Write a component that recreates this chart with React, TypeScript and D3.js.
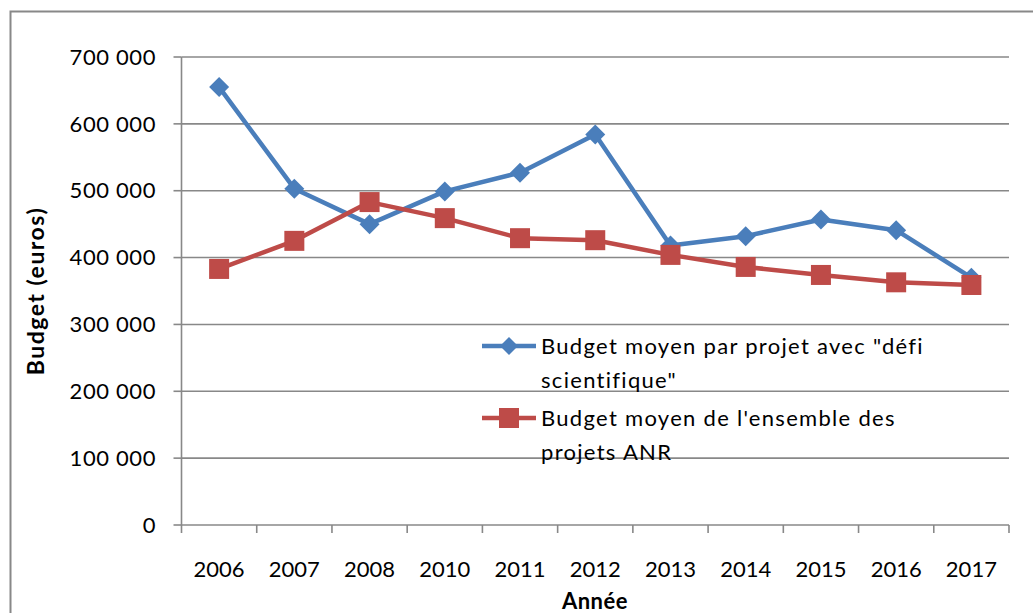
import React from "react";
import * as d3 from "d3";

const years = ["2006", "2007", "2008", "2010", "2011", "2012", "2013", "2014", "2015", "2016", "2017"];
const defiValues = [655000, 503000, 450000, 499000, 527000, 584000, 418000, 432000, 457000, 441000, 370000];
const anrValues = [383000, 425000, 483000, 459000, 429000, 426000, 404000, 386000, 374000, 363000, 359000];
const yTicks = [0, 100000, 200000, 300000, 400000, 500000, 600000, 700000];
const seriesNames = ['Budget moyen par projet avec "défi', 'scientifique"'];
const seriesNames2 = ["Budget moyen de l'ensemble des", "projets ANR"];

const W = 1033;
const H = 613;
const left = 181.5;
const right = 1009;
const top = 57;
const bottom = 525;
const FONT = "Lato, 'Open Sans', sans-serif";
const BLUE = "#4A7EBB";
const RED = "#BE4B48";
const GRID = "#888888";

const fmt = (v: number) => {
  const s = String(v);
  return s.replace(/\B(?=(\d{3})+(?!\d))/g, " ");
};

export default function App() {
  const x = d3.scaleBand<string>().domain(years).range([left, right]);
  const y = d3.scaleLinear().domain([0, 700000]).range([bottom, top]);
  const cx = (yr: string) => (x(yr) as number) + x.bandwidth() / 2;
  const line = d3
    .line<number>()
    .x((_, i) => cx(years[i]))
    .y((d) => y(d));
  const diamond = (px: number, py: number, r: number) =>
    `M${px},${py - r}L${px + r},${py}L${px},${py + r}L${px - r},${py}Z`;

  const tickEdges = years.map((yr) => x(yr) as number).concat([right]);
  const legendText = { fontSize: 22, letterSpacing: 1.3, fill: "#000" } as const;

  return (
    <svg width={W} height={H} style={{ position: "absolute", left: 0, top: 0 }} fontFamily={FONT}>
      <rect x={0} y={0} width={W} height={H} fill="#fff" />
      <rect x={10.5} y={11.5} width={W + 20} height={H + 20} fill="none" stroke={GRID} strokeWidth={2} />
      {/* gridlines */}
      {yTicks.map((t) => (
        <g key={t}>
          {t > 0 && <line x1={left} x2={right} y1={y(t)} y2={y(t)} stroke={GRID} strokeWidth={1.6} />}
          <line x1={left - 8} x2={left} y1={y(t)} y2={y(t)} stroke={GRID} strokeWidth={1.6} />
          <text x={156} y={y(t)} dy="0.35em" textAnchor="end" fontSize={22} letterSpacing={0.6} fill="#000">
            {fmt(t)}
          </text>
        </g>
      ))}
      {/* axes */}
      <line x1={left} x2={left} y1={top} y2={bottom} stroke={GRID} strokeWidth={1.6} />
      <line x1={left} x2={right} y1={bottom} y2={bottom} stroke={GRID} strokeWidth={1.6} />
      {tickEdges.map((tx, i) => (
        <line key={i} x1={tx} x2={tx} y1={bottom} y2={bottom + 8} stroke={GRID} strokeWidth={1.6} />
      ))}
      {years.map((yr) => (
        <text key={yr} x={cx(yr)} y={569} dy="0.35em" textAnchor="middle" fontSize={22} fill="#000">
          {yr}
        </text>
      ))}
      <text x={595} y={601} dy="0.35em" textAnchor="middle" fontSize={22} letterSpacing={0.5} fontWeight="bold" fill="#000">
        Année
      </text>
      <text
        transform={`translate(36,291) rotate(-90)`}
        dy="0.35em"
        textAnchor="middle"
        fontSize={23}
        letterSpacing={1.5}
        fontWeight="bold"
        fill="#000"
      >
        Budget (euros)
      </text>
      {/* series */}
      <path d={line(defiValues) || ""} fill="none" stroke={BLUE} strokeWidth={4.5} strokeLinejoin="round" />
      <path d={line(anrValues) || ""} fill="none" stroke={RED} strokeWidth={4.5} strokeLinejoin="round" />
      {defiValues.map((v, i) => (
        <path key={"d" + i} d={diamond(cx(years[i]), y(v), 10)} fill={BLUE} />
      ))}
      {anrValues.map((v, i) => (
        <rect key={"r" + i} x={cx(years[i]) - 10} y={y(v) - 10} width={20} height={20} fill={RED} />
      ))}
      {/* legend */}
      <line x1={482} x2={536} y1={346} y2={346} stroke={BLUE} strokeWidth={4.5} />
      <path d={diamond(509, 346, 9)} fill={BLUE} />
      <text x={541} y={346} dy="0.35em" {...legendText}>
        {seriesNames[0]}
      </text>
      <text x={541} y={380} dy="0.35em" {...legendText}>
        {seriesNames[1]}
      </text>
      <line x1={482} x2={536} y1={418} y2={418} stroke={RED} strokeWidth={4.5} />
      <rect x={499} y={408} width={20} height={20} fill={RED} />
      <text x={541} y={418} dy="0.35em" {...legendText}>
        {seriesNames2[0]}
      </text>
      <text x={541} y={452} dy="0.35em" {...legendText}>
        {seriesNames2[1]}
      </text>
    </svg>
  );
}
